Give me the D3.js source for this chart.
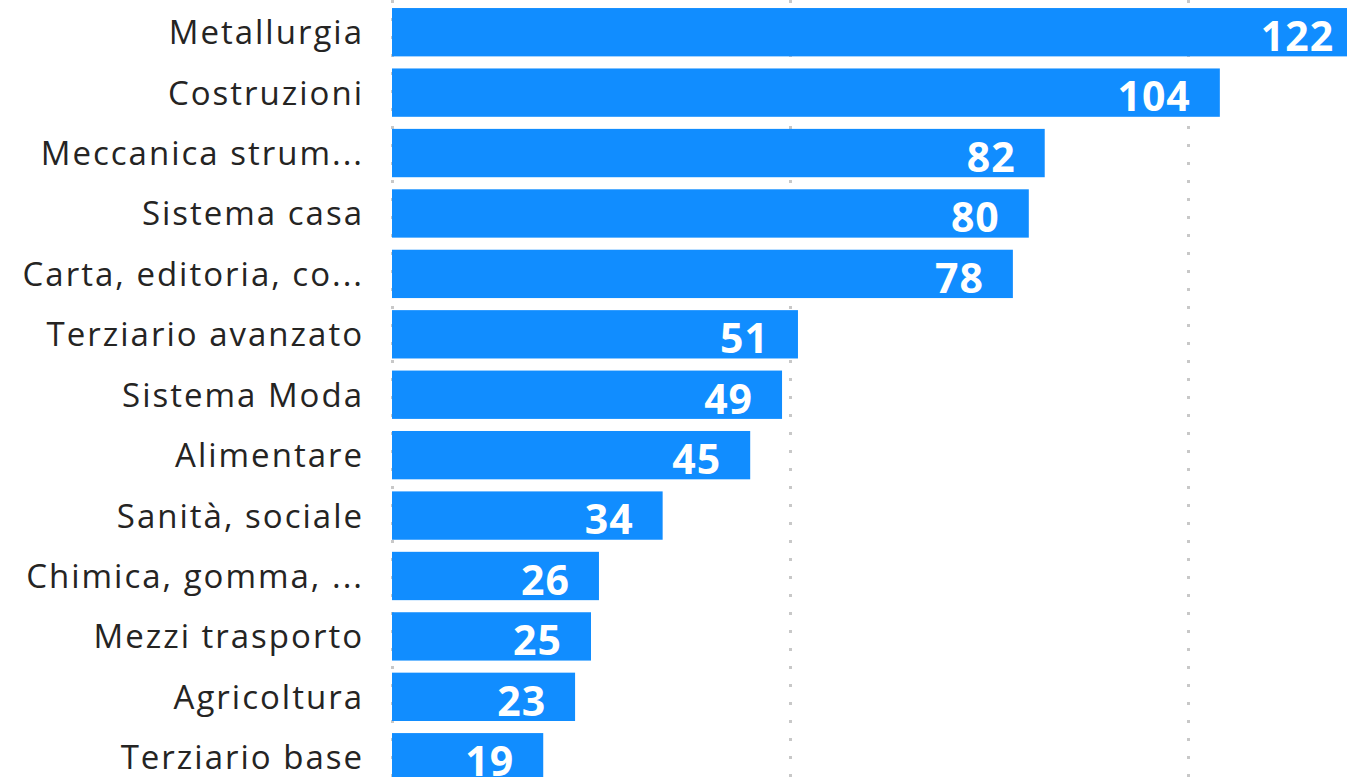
<!DOCTYPE html>
<html>
<head>
<meta charset="utf-8">
<script src="https://cdn.jsdelivr.net/npm/d3@7"></script>
<style>
  html, body { margin: 0; padding: 0; background: #fff; overflow: hidden; }
  svg { display: block; }
</style>
</head>
<body>
<div id="chart"></div>
<script>
// Chart data
var categories = [
  "Metallurgia", "Costruzioni", "Meccanica strum...", "Sistema casa",
  "Carta, editoria, co...", "Terziario avanzato", "Sistema Moda", "Alimentare",
  "Sanità, sociale", "Chimica, gomma, ...", "Mezzi trasporto", "Agricoltura",
  "Terziario base"
];
var values = [122, 104, 82, 80, 78, 51, 49, 45, 34, 26, 25, 23, 19];
var gridTicks = [0, 50, 100];

var width = 1347;
var height = 777;
var barColor = "#118dff";

var svg = d3.select("#chart").append("svg")
  .attr("width", width)
  .attr("height", height);

var x = d3.scaleLinear()
  .domain([0, 125])
  .range([392, 392 + 125 * 7.96]);

var y = d3.scaleBand()
  .domain(categories)
  .range([2, 2 + 13 * 60.42])
  .paddingInner(0.2)
  .paddingOuter(0.1);

// dotted gridlines
svg.append("g").selectAll("line")
  .data(gridTicks)
  .enter().append("line")
  .attr("x1", function(d) { return Math.round(x(d)) + 0.5; })
  .attr("x2", function(d) { return Math.round(x(d)) + 0.5; })
  .attr("y1", 0)
  .attr("y2", height)
  .attr("stroke", "#c8c8c8")
  .attr("stroke-width", 3)
  .attr("stroke-dasharray", "3,15");

var rows = categories.map(function(c, i) {
  return { cat: c, val: values[i] };
});

// bars
svg.append("g").selectAll("rect")
  .data(rows)
  .enter().append("rect")
  .attr("x", x(0))
  .attr("y", function(d) { return y(d.cat); })
  .attr("width", function(d) { return x(d.val) - x(0); })
  .attr("height", y.bandwidth())
  .attr("fill", barColor);

// category labels (spacing widened to match the hinted original)
svg.append("g").selectAll("text")
  .data(rows)
  .enter().append("text")
  .attr("x", x(0) - 28)
  .attr("y", function(d) { return y(d.cat) + y.bandwidth() / 2 + 12; })
  .attr("text-anchor", "end")
  .attr("font-family", "'Open Sans', sans-serif")
  .attr("font-size", 33)
  .attr("letter-spacing", 2)
  .attr("fill", "#252423")
  .text(function(d) { return d.cat; });

// value labels inside bars
svg.append("g").selectAll("text")
  .data(rows)
  .enter().append("text")
  .attr("x", function(d) { return x(d.val) - 29; })
  .attr("y", function(d) { return y(d.cat) + 43; })
  .attr("text-anchor", "end")
  .attr("font-family", "'Open Sans', sans-serif")
  .attr("font-weight", "bold")
  .attr("font-size", 41)
  .attr("letter-spacing", 1)
  .attr("fill", "#ffffff")
  .text(function(d) { return d.val; });
</script>
</body>
</html>
